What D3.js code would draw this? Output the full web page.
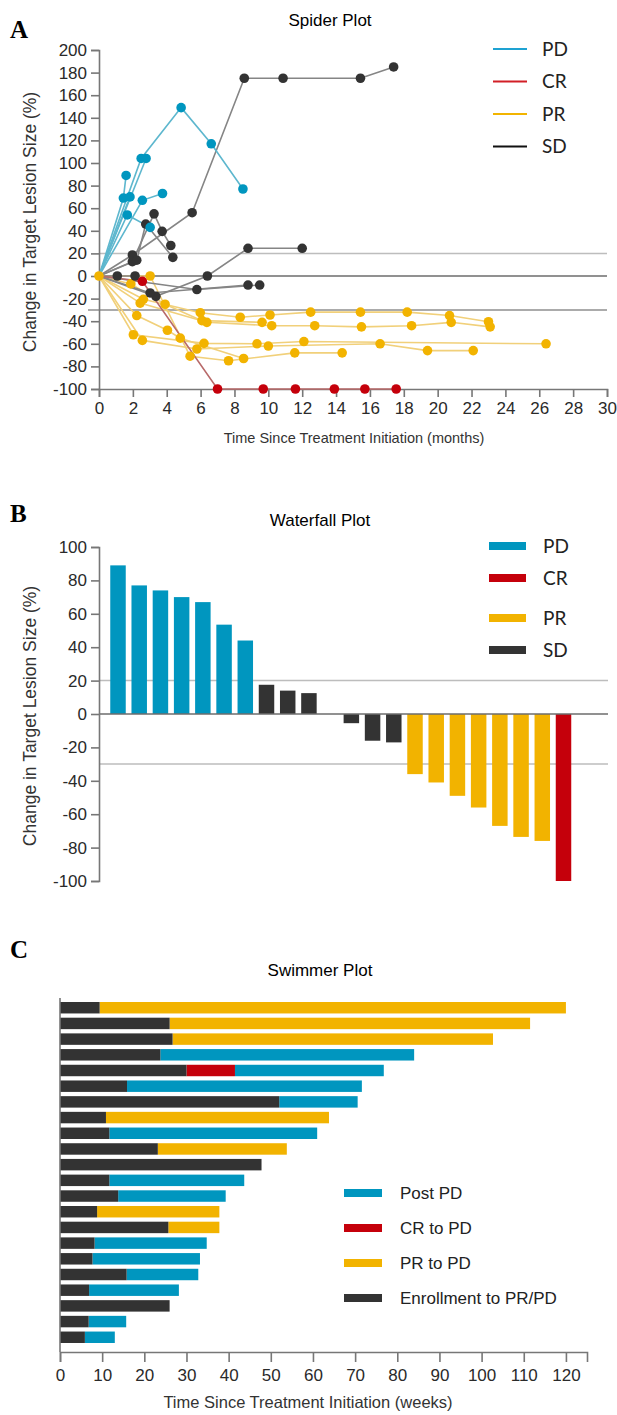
<!DOCTYPE html>
<html>
<head>
<meta charset="utf-8">
<script src="https://cdn.jsdelivr.net/npm/d3@7"></script>
<style>
  body { margin: 0; background: #fff; }
  svg { display: block; }
  .tick text { font-family: "Liberation Sans", Arial, sans-serif; }
</style>
</head>
<body>
<div id="chart"></div>
<script>
// spider plot series: [month, % change]
var pdSeries = [
  [[0,0],[1.44,69],[1.6,89]],
  [[0,0],[2.49,104],[4.85,149],[6.63,117],[8.5,77]],
  [[0,0],[2.56,67],[3.75,73]],
  [[0,0],[1.83,70]],
  [[0,0],[2.78,104]],
  [[0,0],[1.67,54],[3.02,43]]
];
var crSeries = [
  [[0,0],[2.56,-4.7],[7.0,-100],[9.7,-100],[11.6,-100],[13.9,-100],[15.7,-100],[17.55,-100]]
];
var prSeries = [
  [[0,0],[2.62,-20.6],[5.98,-32.5],[8.34,-36.5],[10.1,-34.5],[12.5,-32],[15.44,-32],[18.2,-32],[20.7,-35],[23.0,-40.5]],
  [[0,0],[2.43,-24],[6.37,-41],[10.2,-44],[12.74,-44],[15.5,-45],[18.46,-44],[20.8,-41],[23.1,-45]],
  [[0,0],[2.03,-52],[6.2,-59.6],[9.33,-60],[12.1,-58],[26.4,-60]],
  [[0,0],[2.56,-57],[5.78,-64.6],[10.0,-62],[16.6,-60],[19.4,-66],[22.1,-66]],
  [[0,0],[3.02,0],[5.38,-71],[7.65,-75],[11.56,-68],[14.36,-68]],
  [[0,0],[2.23,-35],[4.04,-48],[4.8,-55],[8.54,-73]],
  [[0,0],[1.88,-7],[3.9,-25],[6.08,-39.5],[9.63,-41]]
];
var sdSeries = [
  [[0,0],[1.97,18.6],[5.5,56],[8.58,175],[10.87,175],[15.44,175],[17.4,185]],
  [[0,0],[1.97,12.7],[3.25,55],[3.73,39.5],[4.24,27]],
  [[0,0],[2.23,14],[2.76,46],[4.36,16.5]],
  [[0,0],[3.36,-18],[6.4,0],[8.8,24.5],[12.0,24.5]],
  [[0,0],[3.02,-15],[8.8,-8]],
  [[0,0],[5.78,-12],[9.49,-8]],
  [[0,0],[1.08,0],[2.13,0]]
];
var spiderYTicks = [200,180,160,140,120,100,80,60,40,20,0,-20,-40,-60,-80,-100];
var spiderXTicks = [0,2,4,6,8,10,12,14,16,18,20,22,24,26,28,30];

// waterfall plot: best change per patient
var wfValues = [89,77,74,70,67,53.5,44,17.5,14,12.5,0,-5.5,-16,-17,-36,-41,-49,-56,-67,-73.6,-76,-100];
var wfGroups = ["PD","PD","PD","PD","PD","PD","PD","SD","SD","SD","SD","SD","SD","SD","PR","PR","PR","PR","PR","PR","PR","CR"];
var wfYTicks = [100,80,60,40,20,0,-20,-40,-60,-80,-100];

// swimmer plot: weeks, [enrollment end, CR end, PR end, post PD end]
var swEnroll = [9.4,26,26.7,23.8,30,15.9,52,10.9,11.7,23.2,47.8,11.7,13.8,8.8,25.7,8.2,7.7,15.8,6.9,26,6.8,5.9];
var swCR     = [0,0,0,0,41.5,0,0,0,0,0,0,0,0,0,0,0,0,0,0,0,0,0];
var swPR     = [120,111.5,102.7,0,0,0,0,63.8,0,53.8,0,0,0,37.8,37.8,0,0,0,0,0,0,0];
var swPost   = [0,0,0,84,76.8,71.6,70.6,0,61,0,0,43.7,39.3,0,0,34.8,33.2,32.8,28.2,0,15.7,13];
var swXTicks = [0,10,20,30,40,50,60,70,80,90,100,110,120];

var colors = {PD: "#0096bf", CR: "#c5000b", PR: "#f2b300", SD: "#333333"};
var lineColors = {PD: "#5db7ce", CR: "#b86a6a", PR: "#f1d07a", SD: "#858585"};
var legendColors = {PD: "#1ea2d2", CR: "#d21f26", PR: "#f2b400", SD: "#111111"};

var svg = d3.select("#chart")
    .append("svg")
    .attr("width", 617)
    .attr("height", 1415);

var sans = "'Liberation Sans', Arial, sans-serif";
var lato = "Lato, 'Open Sans', sans-serif";
var plain = d => String(d);   // keep hyphen minus like the original

// panel letters
[["A",38],["B",522],["C",958]].forEach(function(p){
  svg.append("text")
    .attr("x", 10).attr("y", p[1])
    .text(p[0])
    .attr("font-family", "'Liberation Serif', 'DejaVu Serif', serif")
    .attr("font-weight", "bold")
    .attr("font-size", "25px");
});

function styleAxis(a){
  a.select(".domain").attr("stroke", "#777").attr("stroke-width", 1.6);
  a.selectAll(".tick line").attr("stroke", "#777").attr("stroke-width", 1.6);
  a.selectAll(".tick text").attr("font-size", "17px").attr("fill", "#2a2a2a");
}

// ---------------- Spider plot ----------------
var xSp = d3.scaleLinear().domain([0,30]).range([99,607]);
var ySp = d3.scaleLinear().domain([-100,200]).range([389,50]);

svg.append("text")
  .attr("x", 330).attr("y", 26)
  .attr("text-anchor", "middle")
  .attr("font-family", sans).attr("font-size", "17px")
  .text("Spider Plot");

// reference lines
[[20,"#bdbdbd",99],[0,"#6d6d6d",99],[-30,"#8f8f8f",88]].forEach(function(r){
  svg.append("line")
    .attr("x1", r[2]).attr("x2", 607)
    .attr("y1", ySp(r[0])).attr("y2", ySp(r[0]))
    .attr("stroke", r[1]).attr("stroke-width", 1.5);
});

var spLeft = svg.append("g")
  .attr("transform", "translate(99,0)")
  .call(d3.axisLeft(ySp).tickValues(spiderYTicks).tickFormat(plain).tickSize(8).tickPadding(4));
var spBottom = svg.append("g")
  .attr("transform", "translate(0,389)")
  .call(d3.axisBottom(xSp).tickValues(spiderXTicks).tickFormat(plain).tickSize(8).tickPadding(5));
styleAxis(spLeft);
styleAxis(spBottom);

svg.append("text")
  .attr("transform", "translate(36,222) rotate(-90)")
  .attr("text-anchor", "middle")
  .attr("font-family", sans).attr("font-size", "17.5px").attr("fill", "#333")
  .text("Change in Target Lesion Size (%)");
svg.append("text")
  .attr("x", 354).attr("y", 443)
  .attr("text-anchor", "middle")
  .attr("font-family", sans).attr("font-size", "14.5px").attr("fill", "#333")
  .text("Time Since Treatment Initiation (months)");

var spLine = d3.line().x(d => xSp(d[0])).y(d => ySp(d[1]));
var groups = [["PR", prSeries], ["SD", sdSeries], ["PD", pdSeries], ["CR", crSeries]];

groups.forEach(function(g){
  svg.append("g").selectAll("path")
    .data(g[1]).enter().append("path")
    .attr("d", spLine)
    .attr("fill", "none")
    .attr("stroke", lineColors[g[0]])
    .attr("stroke-width", 1.6);
});
groups.forEach(function(g){
  var pts = [];
  g[1].forEach(function(s){ s.slice(1).forEach(function(p){ pts.push(p); }); });
  svg.append("g").selectAll("circle")
    .data(pts).enter().append("circle")
    .attr("cx", d => xSp(d[0]))
    .attr("cy", d => ySp(d[1]))
    .attr("r", 4.8)
    .attr("fill", colors[g[0]]);
});
// origin dot
svg.append("circle").attr("cx", xSp(0)).attr("cy", ySp(0)).attr("r", 4.8).attr("fill", colors.PR);

// spider legend
var spLegend = ["PD","CR","PR","SD"];
spLegend.forEach(function(k, i){
  var y = 49 + i * 32.5;
  svg.append("line").attr("x1", 493).attr("x2", 527).attr("y1", y).attr("y2", y)
    .attr("stroke", legendColors[k]).attr("stroke-width", 2.2);
  svg.append("text").attr("x", 542).attr("y", y + 6.5)
    .attr("font-family", lato).attr("font-size", "19px").attr("fill", "#222")
    .text(k);
});

// ---------------- Waterfall plot ----------------
var xWf = d3.scaleBand().domain(d3.range(wfValues.length)).range([107.5, 574]).paddingInner(0.27).paddingOuter(0.13);
var yWf = d3.scaleLinear().domain([-100,100]).range([881,547]);

svg.append("text")
  .attr("x", 320).attr("y", 526)
  .attr("text-anchor", "middle")
  .attr("font-family", sans).attr("font-size", "17px")
  .text("Waterfall Plot");

[[20,"#bdbdbd"],[-30,"#bdbdbd"]].forEach(function(r){
  svg.append("line")
    .attr("x1", 99).attr("x2", 608)
    .attr("y1", yWf(r[0])).attr("y2", yWf(r[0]))
    .attr("stroke", r[1]).attr("stroke-width", 1.5);
});

svg.append("g").selectAll("rect")
  .data(wfValues).enter().append("rect")
  .attr("x", (d, i) => xWf(i))
  .attr("width", xWf.bandwidth())
  .attr("y", d => yWf(Math.max(0, d)))
  .attr("height", d => Math.abs(yWf(d) - yWf(0)))
  .attr("fill", (d, i) => colors[wfGroups[i]]);

svg.append("line")
  .attr("x1", 99).attr("x2", 608)
  .attr("y1", yWf(0)).attr("y2", yWf(0))
  .attr("stroke", "#6d6d6d").attr("stroke-width", 1.5);

var wfLeft = svg.append("g")
  .attr("transform", "translate(99,0)")
  .call(d3.axisLeft(yWf).tickValues(wfYTicks).tickFormat(plain).tickSize(8).tickPadding(4));
styleAxis(wfLeft);

svg.append("text")
  .attr("transform", "translate(36,716) rotate(-90)")
  .attr("text-anchor", "middle")
  .attr("font-family", sans).attr("font-size", "17.5px").attr("fill", "#333")
  .text("Change in Target Lesion Size (%)");

var wfLegendY = [546, 578, 618, 650];
spLegend.forEach(function(k, i){
  svg.append("rect").attr("x", 489).attr("y", wfLegendY[i] - 4).attr("width", 37).attr("height", 8)
    .attr("fill", colors[k]);
  svg.append("text").attr("x", 543).attr("y", wfLegendY[i] + 7)
    .attr("font-family", lato).attr("font-size", "19px").attr("fill", "#222")
    .text(k);
});

// ---------------- Swimmer plot ----------------
var xSw = d3.scaleLinear().domain([0,125]).range([60,587]);
var ySw = d3.scaleBand().domain(d3.range(swEnroll.length)).range([1002, 1343]).paddingInner(0.27);

svg.append("text")
  .attr("x", 320).attr("y", 976)
  .attr("text-anchor", "middle")
  .attr("font-family", sans).attr("font-size", "17px")
  .text("Swimmer Plot");

// build segments from the arrays
var segs = [];
swEnroll.forEach(function(e, i){
  var start = e;
  if (swCR[i] > 0) { segs.push({row: i, a: start, b: swCR[i], c: colors.CR}); start = swCR[i]; }
  if (swPR[i] > 0) { segs.push({row: i, a: start, b: swPR[i], c: colors.PR}); start = swPR[i]; }
  if (swPost[i] > 0) { segs.push({row: i, a: start, b: swPost[i], c: colors.PD}); }
  segs.push({row: i, a: 0, b: e, c: colors.SD});
});

svg.append("g").selectAll("rect")
  .data(segs).enter().append("rect")
  .attr("x", d => xSw(d.a))
  .attr("width", d => xSw(d.b) - xSw(d.a))
  .attr("y", d => ySw(d.row))
  .attr("height", ySw.bandwidth())
  .attr("fill", d => d.c);

svg.append("line").attr("x1", 60).attr("x2", 60).attr("y1", 998).attr("y2", 1352)
  .attr("stroke", "#777").attr("stroke-width", 1.6);

var swBottom = svg.append("g")
  .attr("transform", "translate(0,1352)")
  .call(d3.axisBottom(xSw).tickValues(swXTicks).tickFormat(plain).tickSize(10).tickPadding(7));
styleAxis(swBottom);

svg.append("text")
  .attr("x", 308).attr("y", 1408)
  .attr("text-anchor", "middle")
  .attr("font-family", sans).attr("font-size", "16.5px").attr("fill", "#333")
  .text("Time Since Treatment Initiation (weeks)");

var swLegend = [["Post PD", colors.PD],["CR to PD", colors.CR],["PR to PD", colors.PR],["Enrollment to PR/PD", colors.SD]];
swLegend.forEach(function(k, i){
  var y = 1193 + i * 35;
  svg.append("rect").attr("x", 344).attr("y", y - 4).attr("width", 38).attr("height", 8)
    .attr("fill", k[1]);
  svg.append("text").attr("x", 400).attr("y", y + 6)
    .attr("font-family", sans).attr("font-size", "17px").attr("fill", "#222")
    .text(k[0]);
});
</script>
</body>
</html>
